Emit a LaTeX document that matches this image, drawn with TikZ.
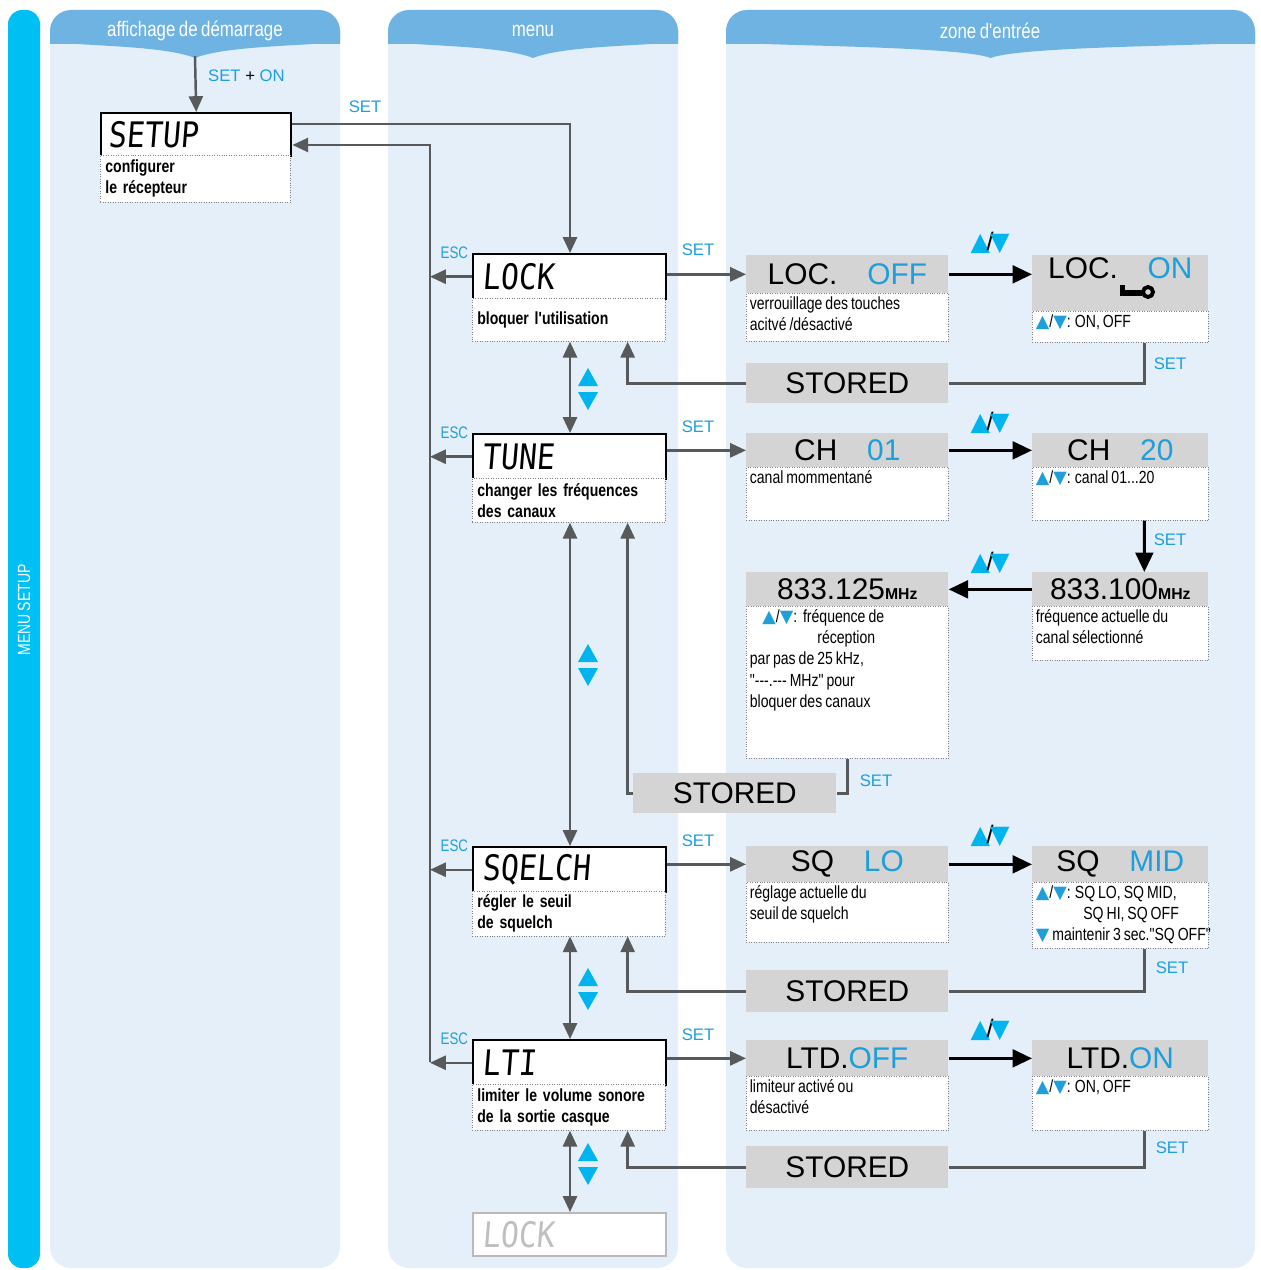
\documentclass[tikz,border=0pt]{standalone}
\usepackage{fontspec}
\setmainfont{Liberation Sans}
\newfontfamily\cond[FakeStretch=0.8,WordSpace=0.75,BoldFeatures={FakeStretch=0.8,WordSpace=0.6}]{Liberation Sans}
\newfontfamily\lcdfont[FakeSlant=0.08,FakeStretch=0.85]{DejaVu Sans Mono}
\newfontfamily\sym{DejaVu Sans}
\usetikzlibrary{arrows.meta}
\definecolor{panelc}{HTML}{E5EFF9}
\definecolor{tabc}{HTML}{6FB3E3}
\definecolor{cyanc}{HTML}{1E9FDC}
\definecolor{barc}{HTML}{00C0F3}
\definecolor{tric}{HTML}{00B4EE}
\definecolor{lcdgray}{HTML}{D4D4D4}
\definecolor{linec}{HTML}{58595B}
\newcommand\updn{{\sym\color{cyanc}▲}/{\sym\color{cyanc}▼}}
\newcommand\bigud{{\sym\Large\color{tric}▲}\kern-2pt{\Large/}\kern-2pt{\sym\Large\color{tric}▼}}
\newcommand\boxtxt[3]{\parbox[c][#2][t]{#1}{\raggedright #3}}

\tikzset{
  lcd/.style={draw=black, line width=1.4pt, fill=white, anchor=north west, minimum width=3.86cm,
    minimum height=0.9cm, text width=3.5cm, align=left, inner sep=3pt, font=\lcdfont\fontsize{20}{20}\selectfont},
  desc/.style={draw=gray, densely dotted, fill=white, anchor=north west, minimum width=3.86cm,
    minimum height=0.88cm, text width=3.66cm, align=left, inner sep=2pt, font=\cond\bfseries\fontsize{10}{12}\selectfont},
  hdr/.style={fill=lcdgray, anchor=north west, minimum width=4.04cm, minimum height=0.76cm, inner sep=0pt,
    font=\fontsize{17}{18}\selectfont},
  info/.style={draw=gray, densely dotted, fill=white, anchor=north west, minimum width=4.04cm,
    inner sep=2pt, font=\cond\fontsize{10}{12}\selectfont},
  stored/.style={fill=lcdgray, anchor=north west, minimum width=4.04cm, minimum height=0.8cm,
    font=\fontsize{17}{18}\selectfont},
  setlbl/.style={text=cyanc, font=\fontsize{9.5}{10}\selectfont},
  esclbl/.style={text=cyanc, font=\cond\fontsize{9.5}{10}\selectfont},
  flow/.style={draw=linec, line width=1.4pt, -{Triangle[length=9pt,width=8pt]}},
  flowline/.style={draw=linec, line width=1.4pt},
  both/.style={flow, {Triangle[length=9pt,width=8pt]}-{Triangle[length=9pt,width=8pt]}},
  push/.style={draw=black, line width=1.8pt, -{Triangle[length=11pt,width=10pt]}},
  tab/.style={text=white, font=\cond\fontsize{12}{12}\selectfont},
}

\begin{document}
\begin{tikzpicture}[x=0.02cm, y=-0.02cm]
  \useasboundingbox (0,0) rectangle (1260,1270);

  % Panels
  \fill[barc, rounded corners=8] (8,10) rectangle (40,1268);
  \node[rotate=90, text=white, font=\cond\fontsize{10}{10}\selectfont] (sidelbl) at (24,610) {MENU SETUP};
  \foreach \xa/\xb in {50/340, 388/678, 726/1255} {
    \fill[panelc, rounded corners=12] (\xa,10) rectangle (\xb,1268);
    \fill[tabc, rounded corners=12] (\xa,44) -- (\xa,10) -- (\xb,10) -- (\xb,44);
    \fill[tabc] (\xa,30) -- (\xb,30) -- (\xb,42) .. controls ({\xb-40},46) and ({(\xa+\xb)/2+30},46) .. ({(\xa+\xb)/2},58)
      .. controls ({(\xa+\xb)/2-30},46) and ({\xa+40},46) .. (\xa,42) -- cycle;
  }
  \node[tab] (tabstart) at (195,31) {affichage de démarrage};
  \node[tab] (tabmenu) at (533,31) {menu};
  \node[tab] (tabzone) at (990,31) {zone d'entrée};

  % Setup
  \node[lcd, minimum width=3.8cm, minimum height=0.86cm] (setuplcd) at (100,112) {SETUP};
  \node[desc, minimum width=3.8cm, minimum height=0.94cm, text width=3.6cm] (setupdesc) at (100,155) {configurer\\le récepteur};
  \coordinate (tabtip) at (195,56);
  \draw[flow] (tabtip) -- (setuplcd.north);
  \node[setlbl, anchor=west] (setonlbl) at (202,76) {SET {\color{black}+} ON};

  % Menu items
  \node[lcd] (locklcd) at (472,253) {LOCK};
  \node[desc, minimum height=0.86cm] (lockdesc) at (472,298) {bloquer l'utilisation};
  \node[lcd] (tunelcd) at (472,433) {TUNE};
  \node[desc] (tunedesc) at (472,478) {changer les fréquences\\des canaux};
  \node[lcd] (sqlcd) at (472,846) {SQELCH};
  \node[desc] (sqdesc) at (472,891) {régler le seuil\\de squelch};
  \node[lcd] (ltilcd) at (472,1039) {LTI};
  \node[desc, minimum height=0.92cm] (ltidesc) at (472,1084) {limiter le volume sonore\\de la sortie casque};
  \node[lcd, draw=gray!55, text=gray!50, minimum height=0.86cm] (ghostlcd) at (472,1212) {LOCK};

  % Setup <-> menu
  \coordinate (bustop) at (430,145);
  \coordinate (busbot) at (430,1062);
  \draw[flow] (busbot) -- (bustop) -- (setuplcd.east |- bustop);
  \coordinate (setturn) at (570,124);
  \draw[flow] (setuplcd.east |- setturn) -- (setturn) -- (locklcd.north -| setturn);
  \node[setlbl] (setlbl0) at (365,107) {SET};
  \foreach \m in {lock, tune, sq, lti} {
    \draw[flow] (\m lcd.west) -- (\m lcd.west -| bustop);
    \node[esclbl, anchor=east, inner sep=2pt] (esc\m) at (\m lcd.north west) {ESC};
  }

  % Scrolling between items
  \draw[both] (lockdesc.south -| setturn) -- (tunelcd.north -| setturn);
  \draw[both] (tunedesc.south -| setturn) -- (sqlcd.north -| setturn);
  \draw[both] (sqdesc.south -| setturn) -- (ltilcd.north -| setturn);
  \draw[both] (ltidesc.south -| setturn) -- (ghostlcd.north -| setturn);
  \foreach \c in {388, 664, 988, 1163} {
    \fill[tric] (578,\c-2) -- (598,\c-2) -- (588,\c-20) -- cycle;
    \fill[tric] (578,\c+4) -- (598,\c+4) -- (588,\c+22) -- cycle;
  }

  % LOCK row
  \node[hdr] (lockoff) at (746,255) {LOC.\quad{\color{cyanc}OFF}};
  \node[info] (lockoffd) at (746,293) {\boxtxt{3.9cm}{0.82cm}{verrouillage des touches\\acitvé /désactivé}};
  \node[hdr, minimum width=3.52cm, minimum height=1.12cm, text depth=0.6cm] (lockon) at (1032,255) {LOC.\quad{\color{cyanc}ON}};
  \node[info, minimum width=3.52cm] (lockond) at (1032,311) {\boxtxt{3.38cm}{0.48cm}{\updn: ON, OFF}};
  \fill (1120,290) rectangle (1142,296);
  \fill (1120,285) rectangle (1125,296);
  \draw[line width=2.2pt] (1148,292) circle (5);
  \node[stored] (storedA) at (746,363) {STORED};
  \draw[flow] (locklcd.east |- lockoff.west) -- (lockoff.west);
  \node[setlbl] (setlblA) at (698,250) {SET};
  \draw[push] (lockoff.east) -- (lockoff.east -| lockon.west);
  \node (udA) at (990,243) {\bigud};
  \draw[flowline] ([xshift=0.48cm]lockond.south) |- (storedA.east);
  \node[setlbl] (setlblA2) at (1170,364) {SET};
  \draw[flow] (storedA.west) -| ([xshift=-0.76cm]lockdesc.south east);

  % TUNE row
  \node[hdr, minimum height=0.68cm] (ch01) at (746,433) {CH\quad{\color{cyanc}01}};
  \node[info] (ch01d) at (746,467) {\boxtxt{3.9cm}{0.92cm}{canal mommentané}};
  \node[hdr, minimum width=3.52cm, minimum height=0.68cm] (ch20) at (1032,433) {CH\quad{\color{cyanc}20}};
  \node[info, minimum width=3.52cm] (ch20d) at (1032,467) {\boxtxt{3.38cm}{0.92cm}{\updn: canal 01...20}};
  \draw[flow] (tunelcd.east |- ch01.west) -- (ch01.west);
  \node[setlbl] (setlblB) at (698,427) {SET};
  \draw[push] (ch01.east) -- (ch01.east -| ch20.west);
  \node (udB) at (990,423) {\bigud};
  \node[hdr, minimum width=3.52cm, minimum height=0.68cm] (f100) at (1032,572) {833.100{\fontsize{9}{9}\selectfont\bfseries MHz}};
  \node[info, minimum width=3.52cm] (f100d) at (1032,606) {\boxtxt{3.38cm}{0.94cm}{fréquence actuelle du\\canal sélectionné}};
  \draw[push] ([xshift=0.48cm]ch20d.south) -- ([xshift=0.48cm]f100.north);
  \node[setlbl] (setlblB2) at (1170,540) {SET};
  \node[hdr, minimum height=0.68cm] (f125) at (746,572) {833.125{\fontsize{9}{9}\selectfont\bfseries MHz}};
  \node[info] (f125d) at (746,606) {\boxtxt{3.9cm}{2.9cm}{\hspace*{0.25cm}\updn:\ \ fréquence de\\\hspace*{1.35cm}réception\\par pas de 25 kHz,\\"---.--- MHz" pour\\bloquer des canaux}};
  \draw[push] (f100.west) -- (f125.east);
  \node (udC) at (990,563) {\bigud};
  \node[stored, minimum width=4.06cm] (storedB) at (633,773) {STORED};
  \draw[flowline] (f125d.south) |- (storedB.east);
  \node[setlbl] (setlblB3) at (876,781) {SET};
  \draw[flow] (storedB.west) -| ([xshift=-0.76cm]tunedesc.south east);

  % SQUELCH row
  \node[hdr, minimum height=0.72cm] (sqlo) at (746,846) {SQ\quad{\color{cyanc}LO}};
  \node[info] (sqlod) at (746,882) {\boxtxt{3.9cm}{1.06cm}{réglage actuelle du\\seuil de squelch}};
  \node[hdr, minimum width=3.52cm, minimum height=0.72cm] (sqmid) at (1032,846) {SQ\quad{\color{cyanc}MID}};
  \node[info, minimum width=3.52cm] (sqmidd) at (1032,882) {\boxtxt{3.38cm}{1.18cm}{\updn: SQ LO, SQ MID,\\\hspace*{0.95cm}SQ HI, SQ OFF\\\mbox{{\sym\color{cyanc}▼}\,maintenir 3 sec."SQ OFF"}}};
  \node[stored, minimum height=0.84cm] (storedC) at (746,970) {STORED};
  \draw[flow] (sqlcd.east |- sqlo.west) -- (sqlo.west);
  \node[setlbl] (setlblC) at (698,841) {SET};
  \draw[push] (sqlo.east) -- (sqlo.east -| sqmid.west);
  \node (udD) at (990,836) {\bigud};
  \draw[flowline] ([xshift=0.48cm]sqmidd.south) |- (storedC.east);
  \node[setlbl] (setlblC2) at (1172,968) {SET};
  \draw[flow] (storedC.west) -| ([xshift=-0.76cm]sqdesc.south east);

  % LTI row
  \node[hdr, minimum height=0.72cm] (ltdoff) at (746,1040) {LTD.{\color{cyanc}OFF}};
  \node[info] (ltdoffd) at (746,1076) {\boxtxt{3.9cm}{0.94cm}{limiteur activé ou\\désactivé}};
  \node[hdr, minimum width=3.52cm, minimum height=0.72cm] (ltdon) at (1032,1040) {LTD.{\color{cyanc}ON}};
  \node[info, minimum width=3.52cm] (ltdond) at (1032,1076) {\boxtxt{3.38cm}{0.94cm}{\updn: ON, OFF}};
  \node[stored, minimum height=0.84cm] (storedD) at (746,1146) {STORED};
  \draw[flow] (ltilcd.east |- ltdoff.west) -- (ltdoff.west);
  \node[setlbl] (setlblD) at (698,1035) {SET};
  \draw[push] (ltdoff.east) -- (ltdoff.east -| ltdon.west);
  \node (udE) at (990,1030) {\bigud};
  \draw[flowline] ([xshift=0.48cm]ltdond.south) |- (storedD.east);
  \node[setlbl] (setlblD2) at (1172,1148) {SET};
  \draw[flow] (storedD.west) -| ([xshift=-0.76cm]ltidesc.south east);
\end{tikzpicture}
\end{document}
